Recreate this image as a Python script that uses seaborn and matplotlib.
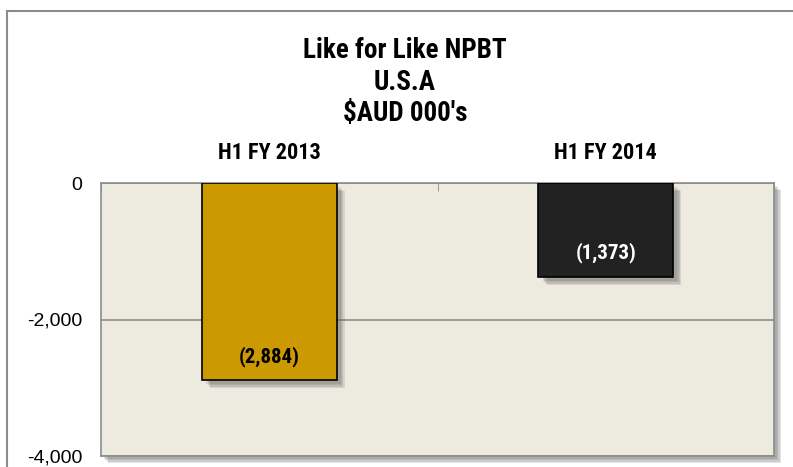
import matplotlib
matplotlib.use("Agg")
import matplotlib.pyplot as plt
import matplotlib.patheffects as pe
from matplotlib.patches import Rectangle
from matplotlib.ticker import FuncFormatter
from matplotlib import font_manager
import seaborn as sns
import pandas as pd

# ===============================
# Data
# ===============================
periods = ["H1 FY 2013", "H1 FY 2014"]
npbt = [-2884, -1373]
bar_colors = ["#CC9900", "#222222"]
label_colors = ["black", "white"]
title_lines = ["Like for Like NPBT", "U.S.A", "$AUD 000's"]
y_ticks = [0, -2000, -4000]

df = pd.DataFrame({"period": periods, "npbt": npbt})

# ===============================
# Figure
# ===============================
sns.set_style("white")
installed = {f.name for f in font_manager.fontManager.ttflist}
narrow = [f for f in ["Liberation Sans Narrow", "Roboto Condensed", "Roboto", "DejaVu Sans"] if f in installed]
plt.rcParams["font.family"] = ["Liberation Sans", "DejaVu Sans"]
plt.rcParams["text.color"] = "black"

fig = plt.figure(figsize=(7.93, 4.67), dpi=100)
fig.patch.set_facecolor("white")

# outer chart frame
fig.patches.append(Rectangle((7 / 793, -0.02), 1.0, 1 - 11 / 467 + 0.02,
                             transform=fig.transFigure, fill=False,
                             edgecolor="#8c8c8c", linewidth=1.5))

ax = fig.add_axes([101 / 793, 11 / 467, 673 / 793, 273 / 467])
ax.set_facecolor("#EDEAE0")


def soft_shadow(d):
    # a few stacked shadows to fake a blur
    effects = [pe.SimplePatchShadow(offset=(d + k, -d - k), shadow_rgbFace="#666666", alpha=0.18)
               for k in (2, 1, 0, -1)]
    return effects + [pe.Normal()]


# plot area shadow
shadow = Rectangle((0, 0), 1, 1, transform=ax.transAxes, facecolor="#EDEAE0",
                   edgecolor="none", zorder=-1, clip_on=False,
                   path_effects=soft_shadow(3))
ax.add_patch(shadow)

sns.barplot(data=df, x="period", y="npbt", hue="period", palette=bar_colors,
            legend=False, width=0.4, edgecolor="black", linewidth=1.2,
            saturation=1, ax=ax, zorder=3)

for patch in ax.patches[1:]:
    patch.set_path_effects(soft_shadow(4))

# data labels near bar ends
for i, v in enumerate(npbt):
    ax.annotate(f"({abs(v):,})", xy=(i, v), xytext=(0, 17), textcoords="offset points",
                ha="center", va="center", fontsize=15, fontweight="bold",
                family=narrow, color=label_colors[i], zorder=5)

ax.set_ylim(-4000, 0)
ax.set_xlim(-0.5, 1.5)
ax.set_yticks(y_ticks)
ax.yaxis.set_major_formatter(FuncFormatter(lambda v, p: f"{v:,.0f}"))
ax.yaxis.grid(True, color="#8c8c8c", linewidth=1.2)
ax.set_axisbelow(True)

ax.xaxis.tick_top()
ax.set_xticks([0, 1])
ax.set_xticklabels(periods, fontsize=16, fontweight="bold", family=narrow, color="black")
ax.set_xticks([-0.5, 0.5, 1.5], minor=True)
ax.tick_params(axis="x", which="major", length=0, pad=14)
ax.tick_params(axis="x", which="minor", direction="in", length=6, color="#8c8c8c", top=True)
ax.tick_params(axis="y", direction="out", length=3.6, color="#8c8c8c", labelsize=14, pad=10, labelcolor="black")
ax.set_xlabel("")
ax.set_ylabel("")

for s in ax.spines.values():
    s.set_color("#8c8c8c")
    s.set_linewidth(1.2)

# title, one line at a time
cx = 405 / 793
for line, ypix in zip(title_lines, [50, 82, 113]):
    fig.text(cx, 1 - ypix / 467, line, ha="center", va="center",
             fontsize=19.5, fontweight="bold", family=narrow)

fig.savefig("out.png", dpi=100)
